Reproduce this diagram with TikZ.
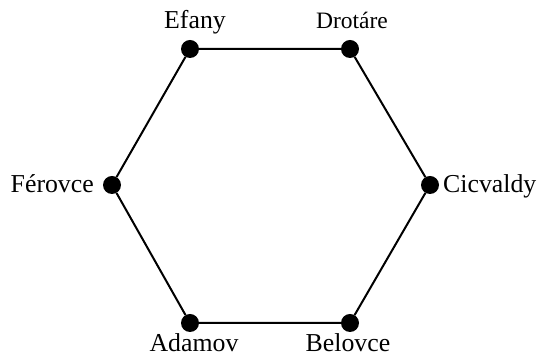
\documentclass[tikz,border=0pt]{standalone}
\usepackage{fontspec}
\setmainfont{Liberation Serif}
\begin{document}
\begin{tikzpicture}[x=1pt,y=1pt,
  dot/.style={circle,fill=black,inner sep=0pt,minimum size=18pt},
  lbl/.style={inner sep=0pt,font=\fontsize{25.8}{30}\selectfont},
  slbl/.style={inner sep=0pt,font=\fontsize{23.5}{28}\selectfont},
  edge/.style={line width=2pt}]
\useasboundingbox (0,0) rectangle (542,358);
\node[dot] (E) at (190,309) {};
\node[dot] (D) at (350,309) {};
\node[dot] (C) at (430,173) {};
\node[dot] (B) at (350,35) {};
\node[dot] (A) at (190,35) {};
\node[dot] (F) at (112,173) {};
\draw[edge] (E) -- (D) -- (C) -- (B) -- (A) -- (F) -- (E);
\node[lbl,anchor=base] (tE) at (195,329) {Efany};
\node[slbl,anchor=base] (tD) at (352,329) {Drotáre};
\node[lbl,anchor=base east] (tF) at (94,165) {Férovce};
\node[lbl,anchor=base west] (tC) at (443,165) {Cicvaldy};
\node[lbl,anchor=base,text depth=0pt] (tA) at (194,6) {Adamov};
\node[lbl,anchor=base,text depth=0pt] (tB) at (348,6) {Belovce};
\end{tikzpicture}
\end{document}
